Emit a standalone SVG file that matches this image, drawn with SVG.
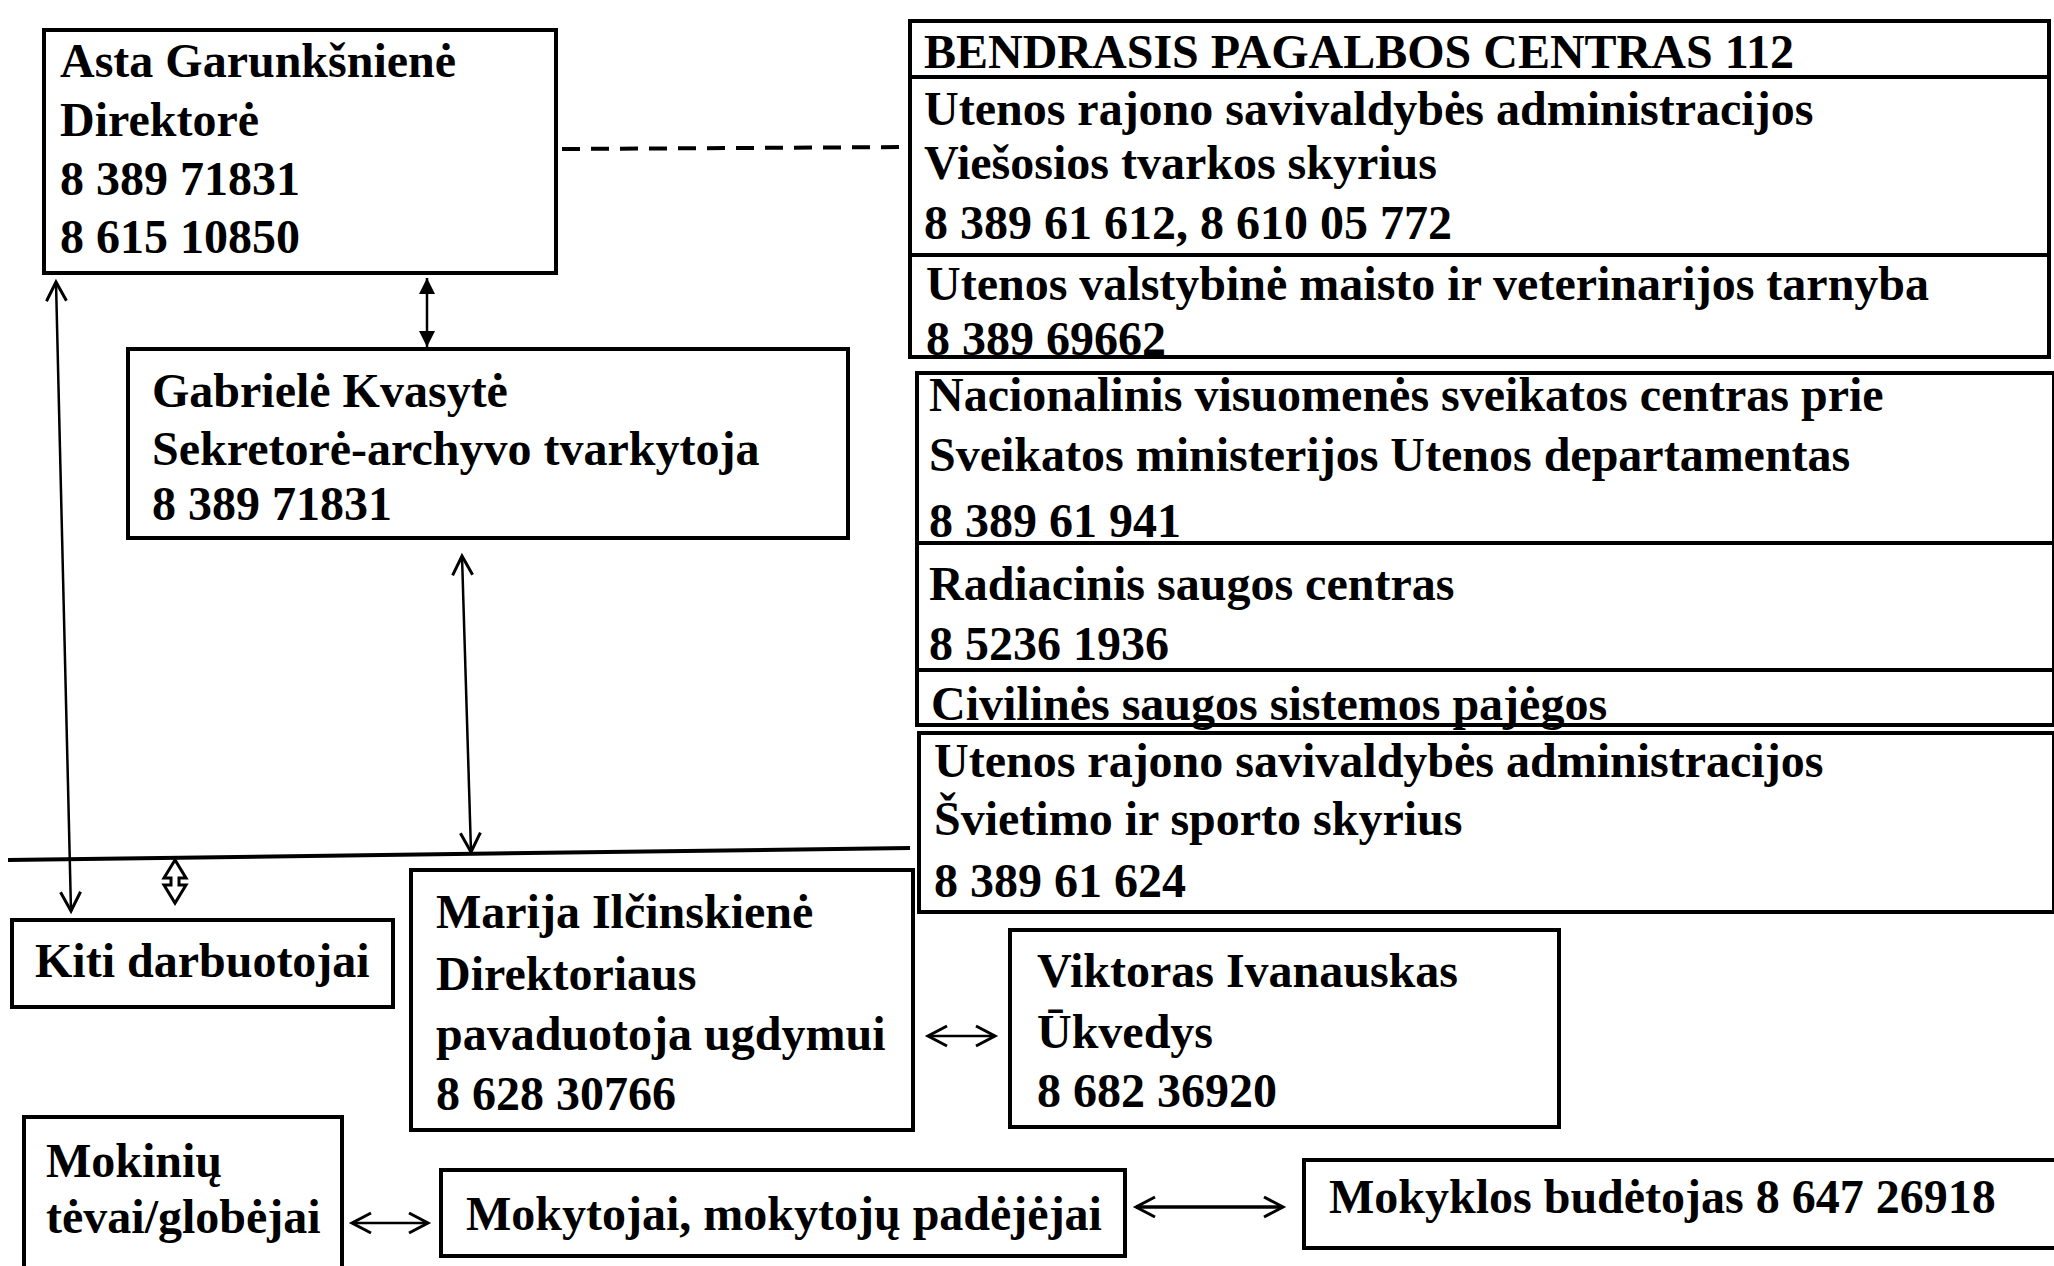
<svg xmlns="http://www.w3.org/2000/svg" width="2054" height="1266" viewBox="0 0 2054 1266">
<style>
.box{fill:none;stroke:#000;stroke-width:4}
.t{font-family:"Liberation Serif","Times New Roman",serif;font-weight:bold;font-size:48px;fill:#000}
.ln{fill:none;stroke:#000;stroke-width:2.5}
</style>
<defs>
<marker id="open" markerUnits="userSpaceOnUse" markerWidth="26" markerHeight="28" viewBox="-22 -14 26 28" refX="0" refY="0" orient="auto-start-reverse">
<path d="M-19,-10 L0,0 L-19,10" fill="none" stroke="#000" stroke-width="3"/>
</marker>
<marker id="solid" markerUnits="userSpaceOnUse" markerWidth="20" markerHeight="20" viewBox="-18 -10 20 20" refX="0" refY="0" orient="auto-start-reverse">
<path d="M-16,-8 L0,0 L-16,8 Z" fill="#000"/>
</marker>
</defs>
<rect width="2054" height="1266" fill="#fff"/>

<g id="connectors">
<line x1="562" y1="149" x2="908" y2="147" stroke="#000" stroke-width="4" stroke-dasharray="18 11"/>
<line class="ln" x1="427" y1="278" x2="427" y2="347" marker-start="url(#solid)" marker-end="url(#solid)"/>
<line class="ln" x1="56" y1="282" x2="71" y2="911" marker-start="url(#open)" marker-end="url(#open)"/>
<line class="ln" x1="462" y1="556" x2="471" y2="852" marker-start="url(#open)" marker-end="url(#open)"/>
<line x1="8" y1="860" x2="910" y2="848" stroke="#000" stroke-width="4"/>
<path d="M175,860 L164,878 L171,878 L171,885 L164,885 L175,903 L186,885 L179,885 L179,878 L186,878 Z" fill="none" stroke="#000" stroke-width="3" stroke-linejoin="miter"/>
<line class="ln" x1="928" y1="1036" x2="995" y2="1036" marker-start="url(#open)" marker-end="url(#open)"/>
<line class="ln" x1="352" y1="1223" x2="428" y2="1223" marker-start="url(#open)" marker-end="url(#open)"/>
<line x1="1136" y1="1207" x2="1283" y2="1207" stroke="#000" stroke-width="3.5" marker-start="url(#open)" marker-end="url(#open)"/>
</g>

<g id="asta">
<rect class="box" x="44" y="30" width="512" height="243"/>
<text class="t" x="60" y="77">Asta Garunkšnienė</text>
<text class="t" x="60" y="136">Direktorė</text>
<text class="t" x="60" y="195">8 389 71831</text>
<text class="t" x="60" y="253">8 615 10850</text>
</g>

<g id="gabriele">
<rect class="box" x="128" y="349" width="720" height="189"/>
<text class="t" x="152" y="407">Gabrielė Kvasytė</text>
<text class="t" x="152" y="465">Sekretorė-archyvo tvarkytoja</text>
<text class="t" x="152" y="520">8 389 71831</text>
</g>

<g id="bpc112">
<rect class="box" x="910" y="21" width="1139" height="56"/>
<text class="t" x="924" y="68">BENDRASIS PAGALBOS CENTRAS 112</text>
</g>
<g id="viesosios-tvarkos">
<rect class="box" x="910" y="77" width="1139" height="178"/>
<text class="t" x="924" y="125">Utenos rajono savivaldybės administracijos</text>
<text class="t" x="924" y="179">Viešosios tvarkos skyrius</text>
<text class="t" x="924" y="239">8 389 61 612, 8 610 05 772</text>
</g>
<g id="vmvt">
<rect class="box" x="910" y="255" width="1139" height="102"/>
<text class="t" x="926" y="300">Utenos valstybinė maisto ir veterinarijos tarnyba</text>
<text class="t" x="926" y="355">8 389 69662</text>
</g>
<g id="nvsc">
<rect class="box" x="917" y="373" width="1137" height="170"/>
<text class="t" x="929" y="411">Nacionalinis visuomenės sveikatos centras prie</text>
<text class="t" x="929" y="471">Sveikatos ministerijos Utenos departamentas</text>
<text class="t" x="929" y="537">8 389 61 941</text>
</g>
<g id="radiacinis">
<rect class="box" x="917" y="543" width="1137" height="127"/>
<text class="t" x="929" y="600">Radiacinis saugos centras</text>
<text class="t" x="929" y="660">8 5236 1936</text>
</g>
<g id="civilines">
<rect class="box" x="917" y="670" width="1137" height="55"/>
<text class="t" x="931" y="720">Civilinės saugos sistemos pajėgos</text>
</g>
<g id="svietimo">
<rect class="box" x="919" y="733" width="1135" height="179"/>
<text class="t" x="934" y="777">Utenos rajono savivaldybės administracijos</text>
<text class="t" x="934" y="835">Švietimo ir sporto skyrius</text>
<text class="t" x="934" y="897">8 389 61 624</text>
</g>

<g id="kiti">
<rect class="box" x="12" y="920" width="381" height="87"/>
<text class="t" x="35" y="977">Kiti darbuotojai</text>
</g>

<g id="marija">
<rect class="box" x="411" y="870" width="502" height="260"/>
<text class="t" x="436" y="928">Marija Ilčinskienė</text>
<text class="t" x="436" y="990">Direktoriaus</text>
<text class="t" x="436" y="1050">pavaduotoja ugdymui</text>
<text class="t" x="436" y="1110">8 628 30766</text>
</g>

<g id="viktoras">
<rect class="box" x="1010" y="930" width="549" height="197"/>
<text class="t" x="1037" y="987">Viktoras Ivanauskas</text>
<text class="t" x="1037" y="1048">Ūkvedys</text>
<text class="t" x="1037" y="1107">8 682 36920</text>
</g>

<g id="mokiniu-tevai">
<rect class="box" x="24" y="1117" width="318" height="170"/>
<text class="t" x="46" y="1177">Mokinių</text>
<text class="t" x="46" y="1233">tėvai/globėjai</text>
</g>

<g id="mokytojai">
<rect class="box" x="441" y="1170" width="684" height="86"/>
<text class="t" x="466" y="1230">Mokytojai, mokytojų padėjėjai</text>
</g>

<g id="budetojas">
<rect class="box" x="1304" y="1160" width="780" height="88"/>
<text class="t" x="1329" y="1213">Mokyklos budėtojas 8 647 26918</text>
</g>
</svg>
